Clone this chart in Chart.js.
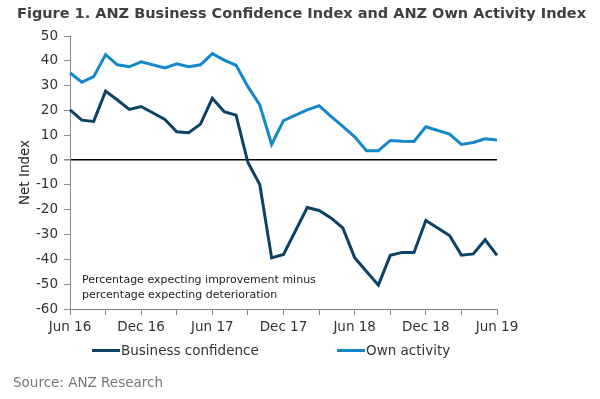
<!DOCTYPE html>
<html>
<head>
<meta charset="utf-8">
<script src="https://cdn.jsdelivr.net/npm/chart.js@4"></script>
<style>
  body { margin: 0; background: #fff; }
  #wrap { position: relative; width: 600px; height: 399px; background: #fff; font-family: "DejaVu Sans", Verdana, sans-serif; }
  #chart { position: absolute; left: 0; top: 0; }
  .txt { position: absolute; white-space: nowrap; }
  .title { left: 17px; top: 4px; font-size: 14.5px; font-weight: bold; color: #404040; line-height: 18px; }
  .note { left: 82px; top: 273px; font-size: 11px; color: #222; line-height: 14.5px; }
  .legend { top: 342px; font-size: 13.5px; color: #333; line-height: 16px; }
  .legend span { display: inline-block; width: 28px; height: 3px; vertical-align: middle; margin-right: 1px; position: relative; top: -1px; }
  .source { left: 13px; top: 374px; font-size: 13.5px; color: #777; line-height: 16px; }
</style>
</head>
<body>
<div id="wrap">
  <canvas id="chart" width="600" height="399"></canvas>
  <div class="txt title">Figure 1. ANZ Business Confidence Index and ANZ Own Activity Index</div>
  <div class="txt note">Percentage expecting improvement minus<br>percentage expecting deterioration</div>
  <div class="txt legend" style="left:92px"><span style="background:#0d4166"></span>Business confidence</div>
  <div class="txt legend" style="left:337px"><span style="background:#1687c9"></span>Own activity</div>
  <div class="txt source">Source: ANZ Research</div>
</div>
<script>
// monthly survey, no survey in January (null, line spans the gap)
const months = [
  "Jun 16", "Jul 16", "Aug 16", "Sep 16", "Oct 16", "Nov 16", "Dec 16",
  "Jan 17", "Feb 17", "Mar 17", "Apr 17", "May 17", "Jun 17", "Jul 17",
  "Aug 17", "Sep 17", "Oct 17", "Nov 17", "Dec 17", "Jan 18", "Feb 18",
  "Mar 18", "Apr 18", "May 18", "Jun 18", "Jul 18", "Aug 18", "Sep 18",
  "Oct 18", "Nov 18", "Dec 18", "Jan 19", "Feb 19", "Mar 19", "Apr 19",
  "May 19", "Jun 19"
];

const businessConfidence = [
  20.2, 16.1, 15.6, 27.8, 24.2, 20.4, 21.6,
  null, 16.4, 11.4, 11.0, 14.5, 24.9, 19.5,
  18.1, -1.0, -9.8, -39.4, -38.0, null, -19.1,
  -20.3, -23.3, -27.3, -39.3, -44.9, -50.4, -38.4,
  -37.2, -37.2, -24.3, null, -30.4, -38.3, -37.8,
  -32.1, -38.4
];

const ownActivity = [
  35.2, 31.4, 33.6, 42.5, 38.4, 37.6, 39.6,
  null, 37.1, 38.8, 37.6, 38.4, 42.9, 40.3,
  38.2, 29.6, 22.2, 6.3, 15.9, null, 20.2,
  21.9, 17.6, 13.6, 9.4, 3.8, 3.8, 7.9,
  7.6, 7.5, 13.4, null, 10.5, 6.3, 7.1,
  8.6, 8.1
];

const yMin = -60;
const yMax = 50;
const yStep = 10;

const tickFont = { family: "DejaVu Sans", size: 13.5 };

new Chart(document.getElementById("chart"), {
  type: "line",
  data: {
    labels: months,
    datasets: [
      {
        label: "Business confidence",
        data: businessConfidence,
        borderColor: "#0d4166",
        backgroundColor: "#0d4166",
      },
      {
        label: "Own activity",
        data: ownActivity,
        borderColor: "#1687c9",
        backgroundColor: "#1687c9",
      },
    ],
  },
  options: {
    responsive: false,
    animation: false,
    spanGaps: true,
    layout: { padding: { left: 0, right: 103, top: 36, bottom: 60 } },
    elements: {
      point: { radius: 0 },
      line: { borderWidth: 3, tension: 0 },
    },
    plugins: {
      legend: { display: false },
      tooltip: { enabled: false },
    },
    scales: {
      x: {
        offset: false,
        border: { color: "#888", width: 1 },
        grid: {
          drawOnChartArea: false,
          tickLength: 6,
          tickColor: (c) => (c.index % 3 === 0 ? "#888" : "rgba(0,0,0,0)"),
        },
        ticks: {
          autoSkip: false,
          maxRotation: 0,
          minRotation: 0,
          padding: 4,
          color: "#333",
          font: tickFont,
          callback: (v, i) => (i % 6 === 0 ? months[i] : ""),
        },
        afterFit: (s) => { s.height = 30; },
      },
      y: {
        min: yMin,
        max: yMax,
        border: { color: "#888", width: 1 },
        grid: {
          color: (c) => (c.tick && c.tick.value === 0 ? "#000" : "rgba(0,0,0,0)"),
          lineWidth: (c) => (c.tick && c.tick.value === 0 ? 1.5 : 1),
          tickLength: 6,
          tickColor: "#888",
        },
        ticks: {
          stepSize: yStep,
          padding: 6,
          color: "#333",
          font: tickFont,
        },
        title: {
          display: true,
          text: "Net Index",
          color: "#222",
          font: tickFont,
          padding: { top: 17, bottom: 0 },
        },
        afterFit: (s) => { s.width = 70; },
      },
    },
  },
});
</script>
</body>
</html>
